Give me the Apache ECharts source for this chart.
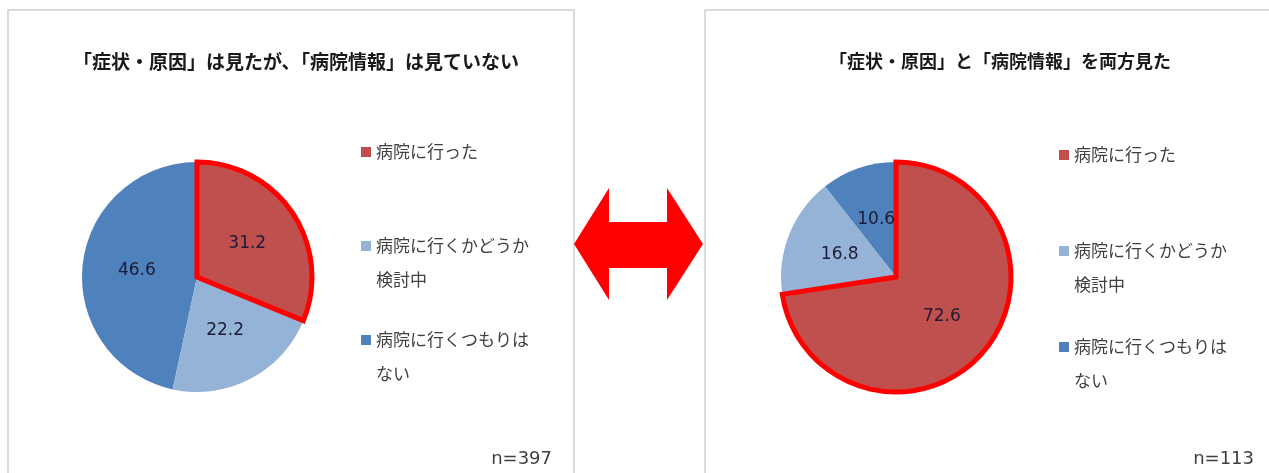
<!DOCTYPE html>
<html>
<head>
<meta charset="utf-8">
<script src="https://cdn.jsdelivr.net/npm/echarts@6/dist/echarts.min.js"></script>
<style>
  html, body { margin: 0; padding: 0; background: #fff; }
  #main { width: 1269px; height: 473px; }
</style>
</head>
<body>
<div id="main"></div>
<script>
// 分類
var categories = ['病院に行った', '病院に行くかどうか検討中', '病院に行くつもりはない'];
// 凡例の表示（改行つき）
var legendLabels = ['病院に行った\n', '病院に行くかどうか\n検討中', '病院に行くつもりは\nない'];
// 値（%）
var leftValues = [31.2, 22.2, 46.6];
var rightValues = [72.6, 16.8, 10.6];
// タイトルと n
var chartTitles = ['「症状・原因」は見たが、「病院情報」は見ていない', '「症状・原因」と「病院情報」を両方見た'];
var sampleSizes = ['n=397', 'n=113'];

var colors = ['#c0504d', '#95b3d7', '#4f81bd'];

// 強調するスライス（病院に行った）を最後に描くため、逆順・反時計回りで並べる
function buildPieData(values) {
    var data = [];
    for (var i = values.length - 1; i >= 0; i--) {
        var one = {
            name: categories[i],
            value: values[i],
            itemStyle: { color: colors[i] }
        };
        if (i === 0) {
            one.itemStyle.borderColor = '#ff0000';
            one.itemStyle.borderWidth = 5;
            one.itemStyle.borderJoin = 'miter';
        }
        data.push(one);
    }
    return data;
}

function buildLegend(left, top, gap) {
    return {
        orient: 'vertical',
        left: left,
        top: top,
        padding: 0,
        itemGap: gap,
        icon: 'rect',
        itemWidth: 10,
        itemHeight: 10,
        selectedMode: false,
        data: categories,
        itemStyle: { borderWidth: 0 },
        // 先頭に空行を入れて、マーカーを1行目にそろえる
        formatter: function (name) {
            return '\n' + legendLabels[categories.indexOf(name)];
        },
        textStyle: {
            fontFamily: 'Noto Sans CJK JP',
            fontSize: 17,
            color: '#404040',
            lineHeight: 34,
            backgroundColor: 'rgba(255,255,255,0)'
        }
    };
}

function buildSeries(values, center) {
    return {
        type: 'pie',
        center: center,
        radius: 115,
        startAngle: 90,
        clockwise: false,
        animation: false,
        silent: true,
        label: {
            show: true,
            position: 'inside',
            fontFamily: 'DejaVu Sans',
            fontSize: 17,
            color: '#1c1c34',
            formatter: function (p) { return p.value.toFixed(1); }
        },
        labelLine: { show: false },
        emphasis: { disabled: true },
        data: buildPieData(values)
    };
}

var myChart = echarts.init(document.getElementById('main'));

var option = {
    backgroundColor: '#ffffff',
    animation: false,
    title: [
        {
            text: chartTitles[0], left: 296, top: 52, padding: 0, textAlign: 'center',
            textStyle: { fontFamily: 'Noto Sans CJK JP', fontSize: 19, fontWeight: 'bold', color: '#1a1a1a' }
        },
        {
            text: chartTitles[1], left: 1000, top: 52, padding: 0, textAlign: 'center',
            textStyle: { fontFamily: 'Noto Sans CJK JP', fontSize: 18, fontWeight: 'bold', color: '#1a1a1a' }
        },
        {
            text: sampleSizes[0], left: 552, top: 450, padding: 0, textAlign: 'right',
            textStyle: { fontFamily: 'DejaVu Sans', fontSize: 18, fontWeight: 'normal', color: '#404040' }
        },
        {
            text: sampleSizes[1], left: 1254, top: 450, padding: 0, textAlign: 'right',
            textStyle: { fontFamily: 'DejaVu Sans', fontSize: 18, fontWeight: 'normal', color: '#404040' }
        }
    ],
    legend: [
        buildLegend(361, 101, -8),
        buildLegend(1059, 104, -6)
    ],
    graphic: [
        // 左右の枠
        { type: 'rect', shape: { x: 8, y: 10, width: 566, height: 480 },
          style: { fill: 'none', stroke: '#d0d0d0', lineWidth: 1.5 }, silent: true },
        { type: 'rect', shape: { x: 705, y: 10, width: 600, height: 480 },
          style: { fill: 'none', stroke: '#d0d0d0', lineWidth: 1.5 }, silent: true },
        // 両矢印
        { type: 'polygon', silent: true,
          shape: { points: [[574, 244], [609, 188], [609, 222], [667, 222], [667, 188],
                            [703, 244], [667, 300], [667, 268], [609, 268], [609, 300]] },
          style: { fill: '#ff0000' } }
    ],
    series: [
        buildSeries(leftValues, [197, 277]),
        buildSeries(rightValues, [896, 277])
    ]
};

myChart.setOption(option);
</script>
</body>
</html>
